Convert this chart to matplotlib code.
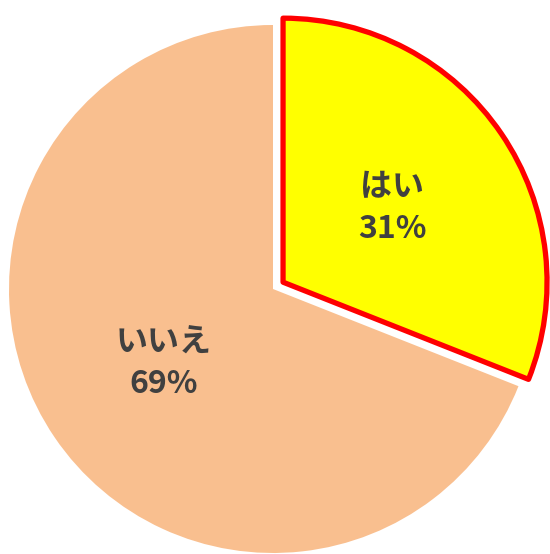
import matplotlib
matplotlib.use('Agg')
import numpy as np
from matplotlib import pyplot as plt

plt.rcParams['font.family'] = ['Noto Sans CJK JP', 'DejaVu Sans']

labels = ['はい', 'いいえ']
values = [31, 69]
colors = ['#FFFF00', '#F9BF8F']

W, H = 550, 554
CX, CY, R = 273, 289, 264

fig = plt.figure(figsize=(W / 100, H / 100), dpi=100)
ax = fig.add_axes([0, 0, 1, 1])

wedges, texts = ax.pie(values, startangle=90, counterclock=False, colors=colors,
                       explode=[0.046, 0], radius=1)
wedges[0].set_edgecolor('#FF0000')
wedges[0].set_linewidth(3.8)
wedges[0].set_joinstyle('round')
wedges[1].set_edgecolor('none')

total = sum(values)
for w, lab, v in zip(wedges, labels, values):
    ang = np.deg2rad((w.theta1 + w.theta2) / 2)
    cx, cy = w.center
    ax.text(cx + 0.5 * np.cos(ang), cy + 0.5 * np.sin(ang), f'{lab}\n{v / total * 100:.0f}%',
            ha='center', va='center', fontsize=23, fontweight='bold', color='#404040',
            linespacing=1.4)

ax.set_xlim(-CX / R, (W - CX) / R)
ax.set_ylim(-(H - CY) / R, CY / R)
ax.axis('off')

fig.savefig('out.png', dpi=100)
